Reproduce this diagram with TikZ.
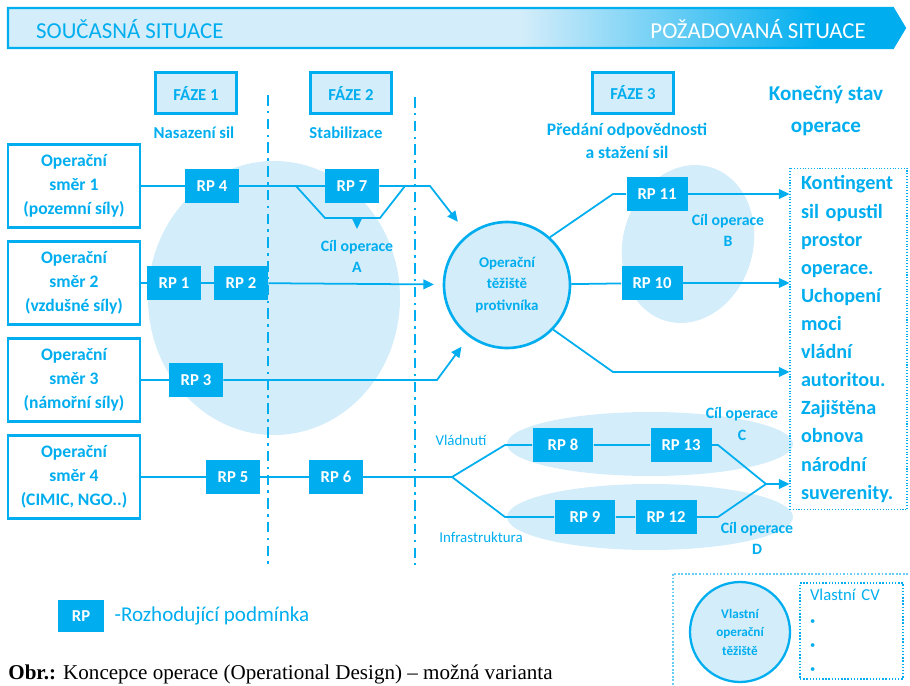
\documentclass[tikz,border=0pt]{standalone}
\usepackage{fontspec}
\setmainfont{Carlito}
\newfontfamily\captfont{Liberation Serif}
\usetikzlibrary{arrows.meta}
\definecolor{opcyan}{RGB}{0,174,239}
\definecolor{oplight}{RGB}{212,237,250}
\tikzset{smer/.style={draw=opcyan, line width=1.3pt, fill=white, text=opcyan, align=center, font=\bfseries\fontsize{10}{13.8}\selectfont, minimum width=2.64cm, minimum height=1.66cm, inner sep=0pt},
  rp/.style={fill=opcyan, text=white, font=\bfseries\fontsize{9.5}{10}\selectfont, minimum width=1.08cm, minimum height=0.7cm, inner sep=0pt},
  rpw/.style={rp, minimum width=1.22cm},
  faze/.style={draw=opcyan, line width=1.6pt, fill=oplight, text=opcyan, font=\bfseries\fontsize{9.5}{11}\selectfont, minimum width=1.62cm, minimum height=0.82cm},
  popis/.style={text=opcyan, font=\bfseries\fontsize{9}{12}\selectfont, align=center},
  tenky/.style={text=opcyan, font=\fontsize{8.5}{10}\selectfont},
  spoj/.style={draw=opcyan, line width=1pt},
  sip/.style={spoj, -{Triangle[length=6pt,width=5.5pt]}},
  hranice/.style={draw=opcyan, line width=1.2pt, dash pattern=on 6pt off 3pt on 1.5pt off 3pt}}

\begin{document}
\begin{tikzpicture}[x=0.02cm, y=-0.02cm]
  \useasboundingbox (0,0) rectangle (910,686);
  \clip (0,0) rectangle (910,686);

  % banner
  \fill[oplight] (8,8) -- (893,8) -- (905,28) -- (893,48) -- (8,48) -- cycle;
  \begin{scope}
    \clip (8,8) -- (893,8) -- (905,28) -- (893,48) -- (8,48) -- cycle;
    \shade[left color=oplight, right color=opcyan] (520,8) rectangle (820,48);
    \fill[opcyan] (820,8) rectangle (910,48);
  \end{scope}
  \draw[opcyan, line width=1.2pt] (8,8) -- (893,8) -- (905,28) -- (893,48) -- (8,48) -- cycle;
  \node[anchor=west, text=opcyan, font=\fontsize{13}{15}\selectfont] (soucasna) at (30,29) {SOUČASNÁ SITUACE};
  \node[anchor=east, text=white, font=\fontsize{13}{15}\selectfont] (pozadovana) at (872,29) {POŽADOVANÁ SITUACE};

  % cile operace
  \fill[oplight] (274,298) ellipse [x radius=126, y radius=137];
  \fill[oplight, rotate around={-16:(688,244)}] (688,244) ellipse [x radius=65, y radius=80];
  \fill[oplight] (650,444) ellipse [x radius=143, y radius=32];
  \fill[oplight] (650,517) ellipse [x radius=143, y radius=33];

  % hranice fazi
  \draw[hranice] (268,95) -- (268,565);
  \draw[hranice] (415,97) -- (415,565);

  % faze
  \node[faze] (f1) at (196,93) {FÁZE 1};
  \node[faze] (f2) at (351,93) {FÁZE 2};
  \node[faze] (f3) at (633,93) {FÁZE 3};
  \node[popis, font=\bfseries\fontsize{9.5}{12}\selectfont] (nasazeni) at (194,133) {Nasazení sil};
  \node[popis, font=\bfseries\fontsize{9.5}{12}\selectfont] (stabilizace) at (346,133) {Stabilizace};
  \node[popis, font=\bfseries\fontsize{10}{13}\selectfont] (predani) at (627,141) {Předání odpovědnosti\\a stažení sil};
  \node[popis, font=\bfseries\fontsize{12}{18}\selectfont] (konecny) at (826,111) {Konečný stav\\operace};

  % operacni smery
  \node[smer] (d1) at (74,186) {Operační\\směr 1\\(pozemní síly)};
  \node[smer] (d2) at (74,283) {Operační\\směr 2\\(vzdušné síly)};
  \node[smer] (d3) at (74,380) {Operační\\směr 3\\(námořní síly)};
  \node[smer] (d4) at (74,477) {Operační\\směr 4\\(CIMIC, NGO..)};

  % rozhodujici podminky
  \node[rp] (rp4) at (212,186) {RP 4};
  \node[rp] (rp7) at (352,186) {RP 7};
  \node[rp] (rp1) at (174,283) {RP 1};
  \node[rp] (rp2) at (241,283) {RP 2};
  \node[rp] (rp3) at (196,380) {RP 3};
  \node[rp] (rp5) at (233,477) {RP 5};
  \node[rp] (rp6) at (336,477) {RP 6};
  \node[rpw] (rp11) at (657,194) {RP 11};
  \node[rpw] (rp10) at (652,283) {RP 10};
  \node[rpw] (rp8) at (563,445) {RP 8};
  \node[rpw] (rp13) at (681,445) {RP 13};
  \node[rpw] (rp9) at (585,517) {RP 9};
  \node[rpw] (rp12) at (666,517) {RP 12};

  \node[circle, draw=opcyan, line width=1.5pt, fill=oplight, minimum size=2.52cm, popis, font=\bfseries\fontsize{8.5}{12}\selectfont] (ctp) at (507,285) {Operační\\těžiště\\protivníka};

  \node[draw=opcyan, line width=0.6pt, densely dotted, minimum width=2.34cm, minimum height=6.84cm, text width=1.9cm, inner xsep=0.22cm, align=left, text=opcyan, font=\bfseries\fontsize{11.5}{16}\selectfont] (kon) at (848.5,339) {Kontingent\\sil opustil\\prostor\\operace.\\Uchopení\\moci\\vládní\\autoritou.\\Zajištěna\\obnova\\národní\\suverenity.};

  % popisky
  \node[popis] (cila) at (357,256) {Cíl operace\\A};
  \node[popis] (cilb) at (728,230) {Cíl operace\\B};
  \node[popis] (cilc) at (742,424) {Cíl operace\\C};
  \node[popis] (cild) at (757,538) {Cíl operace\\D};
  \node[tenky] (vladnuti) at (461,440) {Vládnutí};
  \node[tenky] (infra) at (481,537) {Infrastruktura};

  % spoje
  \coordinate (a1) at (296,186);
  \coordinate (a2) at (325,218);
  \coordinate (a3) at (380,218);
  \coordinate (a4) at (405,186);
  \coordinate (a5) at (357,218);
  \coordinate (a6) at (357,229);
  \coordinate (z1) at (430,186);
  \coordinate (z3) at (437,380);
  \draw[spoj] (d1) -- (rp4) -- (rp7);
  \draw[spoj] (a1) -- (a2) -- (a3) -- (a4);
  \draw[sip] (a5) -- (a6);
  \draw[sip, shorten >=9pt] (rp7) -- (z1) -- (ctp);
  \draw[spoj] (d2) -- (rp1) -- (rp2);
  \draw[sip, shorten >=5pt] (rp2) -- (ctp);
  \draw[spoj] (d3) -- (rp3);
  \draw[sip, shorten >=7pt] (rp3) -- (z3) -- (ctp);

  \coordinate (r1) at (452,477);
  \coordinate (r2) at (505,445);
  \coordinate (r3) at (505,517);
  \coordinate (r4) at (718,445);
  \coordinate (r5) at (718,517);
  \coordinate (r6) at (766,484);
  \draw[spoj] (d4) -- (rp5) -- (rp6) -- (r1);
  \draw[spoj] (r1) -- (r2) -- (rp8) -- (rp13) -- (r4) -- (r6);
  \draw[spoj] (r1) -- (r3) -- (rp9) -- (rp12) -- (r5) -- (r6);
  \draw[sip] (r6) -- (r6 -| kon.west);

  \coordinate (p1) at (613,194);
  \coordinate (p3) at (613,372);
  \draw[spoj] (ctp.48) -- (p1) -- (rp11);
  \draw[sip] (rp11) -- (rp11 -| kon.west);
  \draw[spoj] (ctp) -- (rp10);
  \draw[sip] (rp10) -- (rp10 -| kon.west);
  \draw[sip] (ctp.-44) -- (p3) -- (p3 -| kon.west);

  % legenda
  \node[rp, minimum width=0.94cm, minimum height=0.64cm] (rpl) at (81,616) {RP};
  \node[anchor=west, text=opcyan, font=\fontsize{12}{14}\selectfont] (rpltext) at ([xshift=2pt]rpl.east) {-Rozhodující podmínka};

  \draw[opcyan!60, line width=1pt, densely dotted] (673,574) rectangle (915,692);
  \node[circle, draw=opcyan, line width=1.3pt, fill=oplight, minimum size=2cm, popis, font=\bfseries\fontsize{7.5}{10.5}\selectfont] (vot) at (740,632) {Vlastní\\operační\\těžiště};
  \node[draw=opcyan, line width=0.8pt, densely dotted, minimum width=2.06cm, minimum height=1.92cm, text width=1.66cm, inner xsep=0.2cm, align=left, text=opcyan, font=\fontsize{9.5}{13.7}\selectfont] (vcv) at (851.5,631) {Vlastní CV\\{\fontsize{6}{6}\selectfont\textbullet}\\{\fontsize{6}{6}\selectfont\textbullet}\\{\fontsize{6}{6}\selectfont\textbullet}};

  \node[anchor=base west, inner sep=0pt, font=\captfont\fontsize{12}{14}\selectfont] (obr) at (8,679) {\textbf{Obr.:} Koncepce operace (Operational Design) – možná varianta};
\end{tikzpicture}
\end{document}
